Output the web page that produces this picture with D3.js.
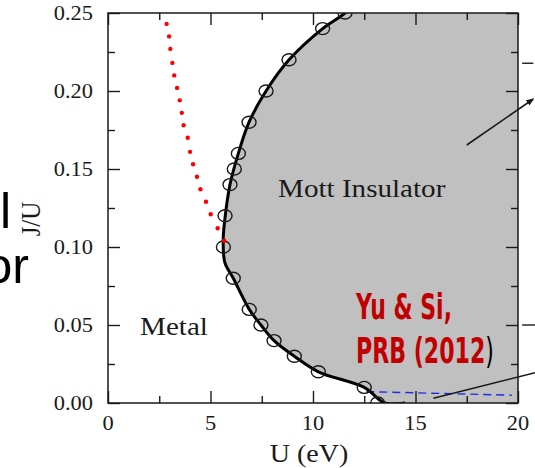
<!DOCTYPE html>
<html>
<head>
    <meta charset="utf-8">
    <title>Mott phase diagram</title>
    <script src="https://cdnjs.cloudflare.com/ajax/libs/d3/7.8.5/d3.min.js"></script>
    <style>
        html, body {
            margin: 0;
            padding: 0;
            background: #ffffff;
        }
        #chart {
            width: 535px;
            height: 468px;
        }
    </style>
</head>
<body>
    <div id="chart"></div>
    <script>
        // axis ticks
        const uTicks = [0, 5, 10, 15, 20];
        const uMinor = [2.5, 7.5, 12.5, 17.5];
        const jTicks = [0, 0.05, 0.10, 0.15, 0.20, 0.25];
        const jMinor = [0.025, 0.075, 0.125, 0.175, 0.225];

        // open circles on the Mott boundary
        const circleU = [11.56, 10.47, 8.83, 7.71, 6.88, 6.36, 6.16, 5.95, 5.71, 5.63, 6.11, 6.89, 7.46, 8.10, 9.09, 10.26, 12.50, 13.15];
        const circleJ = [0.25, 0.24, 0.22, 0.20, 0.18, 0.16, 0.15, 0.14, 0.12, 0.10, 0.08, 0.06, 0.05, 0.04, 0.03, 0.02, 0.01, 0.00];

        // solid boundary line (runs past the frame at both ends)
        const lineU = [12.45, 11.56, 10.47, 8.83, 7.71, 6.88, 6.36, 5.95, 5.72, 5.62, 5.70, 6.11, 6.89, 7.46, 8.10, 9.09, 10.26, 12.50, 13.50, 14.5];
        const lineJ = [0.262, 0.25, 0.24, 0.22, 0.20, 0.18, 0.16, 0.14, 0.12, 0.105, 0.09, 0.08, 0.06, 0.05, 0.04, 0.03, 0.02, 0.01, 0.0, 0.0];

        // red dotted line
        const redU = [2.86, 2.98, 3.04, 3.14, 3.23, 3.37, 3.50, 3.60, 3.69, 3.89, 4.00, 4.15, 4.34, 4.51, 4.78, 5.01, 5.35, 5.67];
        const redJ = [0.243, 0.235, 0.227, 0.218, 0.210, 0.202, 0.194, 0.186, 0.178, 0.170, 0.161, 0.153, 0.145, 0.137, 0.129, 0.121, 0.112, 0.104];

        // blue dashed line
        const blueU = [12.6, 19.7];
        const blueJ = [0.0073, 0.0050];

        // slide annotations (arrows and stray ticks), in data units
        const arrowUp = [[17.5, 0.1654], [20.73, 0.1947]];
        const lineDown = [[15.87, 0.003], [20.83, 0.0194]];
        const strayTicks = [[[20.2, 0.2178], [20.75, 0.2178]], [[20.2, 0.05], [20.83, 0.05]]];

        const W = 535, H = 468;
        const mLeft = 108, mRight = 518, mTop = 13, mBottom = 403;
        const stretch = 1.12;
        const ink = "#1a1a1a";

        const x = d3.scaleLinear().domain([0, 20]).range([mLeft, mRight]);
        const y = d3.scaleLinear().domain([0, 0.25]).range([mBottom, mTop]);

        const svg = d3.select("#chart").append("svg")
            .attr("width", W)
            .attr("height", H);

        svg.append("rect").attr("width", W).attr("height", H).attr("fill", "#fff");

        const defs = svg.append("defs");
        defs.append("clipPath")
            .attr("id", "plot")
            .append("rect")
            .attr("x", mLeft).attr("y", mTop)
            .attr("width", mRight - mLeft).attr("height", mBottom - mTop);

        const boundary = lineU.map((u, i) => [u, lineJ[i]]);
        const line = d3.line()
            .x(d => x(d[0]))
            .y(d => y(d[1]))
            .curve(d3.curveCatmullRom.alpha(0.5));

        const plot = svg.append("g").attr("clip-path", "url(#plot)");

        // insulating region
        plot.append("path")
            .attr("d", line(boundary) + "L" + x(21) + "," + y(0) + "L" + x(21) + "," + y(0.27) + "L" + x(12.45) + "," + y(0.27) + "Z")
            .attr("fill", "#c0c0c0");

        plot.append("path")
            .attr("d", d3.line().x(d => x(d[0])).y(d => y(d[1]))(blueU.map((u, i) => [u, blueJ[i]])))
            .attr("fill", "none")
            .attr("stroke", "#1f2de8")
            .attr("stroke-width", 1.4)
            .attr("stroke-dasharray", "8,5");

        plot.append("path")
            .attr("d", line(boundary))
            .attr("fill", "none")
            .attr("stroke", "#000")
            .attr("stroke-width", 3);

        plot.selectAll("ellipse")
            .data(circleU)
            .enter()
            .append("ellipse")
            .attr("cx", d => x(d))
            .attr("cy", (d, i) => y(circleJ[i]))
            .attr("rx", 7)
            .attr("ry", 6)
            .attr("fill", "none")
            .attr("stroke", ink)
            .attr("stroke-width", 1.4);

        svg.selectAll(".red")
            .data(redU)
            .enter()
            .append("circle")
            .attr("class", "red")
            .attr("cx", d => x(d))
            .attr("cy", (d, i) => y(redJ[i]))
            .attr("r", 2.2)
            .attr("fill", "#ff0000");

        // frame and ticks (all pointing inward)
        function tickAxis(axis, values, size, transform) {
            svg.append("g")
                .attr("transform", transform)
                .call(axis.tickValues(values).tickSize(-size).tickSizeOuter(0).tickFormat(""))
                .call(g => g.select(".domain").remove())
                .call(g => g.selectAll("line").attr("stroke", ink).attr("stroke-width", 1.4));
        }
        tickAxis(d3.axisBottom(x), uTicks, 12, `translate(0,${mBottom})`);
        tickAxis(d3.axisBottom(x), uMinor, 7, `translate(0,${mBottom})`);
        tickAxis(d3.axisTop(x), uTicks, 12, `translate(0,${mTop})`);
        tickAxis(d3.axisTop(x), uMinor, 7, `translate(0,${mTop})`);
        tickAxis(d3.axisLeft(y), jTicks, 12, `translate(${mLeft},0)`);
        tickAxis(d3.axisLeft(y), jMinor, 7, `translate(${mLeft},0)`);
        tickAxis(d3.axisRight(y), jTicks, 12, `translate(${mRight},0)`);
        tickAxis(d3.axisRight(y), jMinor, 7, `translate(${mRight},0)`);

        svg.append("rect")
            .attr("x", mLeft).attr("y", mTop)
            .attr("width", mRight - mLeft).attr("height", mBottom - mTop)
            .attr("fill", "none")
            .attr("stroke", ink)
            .attr("stroke-width", 1.5);

        // slide annotations
        defs.append("marker")
            .attr("id", "head")
            .attr("viewBox", "0 0 10 10")
            .attr("refX", 8).attr("refY", 5)
            .attr("markerWidth", 5).attr("markerHeight", 5)
            .attr("orient", "auto")
            .append("path")
            .attr("d", "M0,1L10,5L0,9Z")
            .attr("fill", ink);

        const seg = d3.line().x(d => x(d[0])).y(d => y(d[1]));
        svg.append("path")
            .attr("d", seg(arrowUp))
            .attr("stroke", ink).attr("stroke-width", 1.6)
            .attr("marker-end", "url(#head)");
        svg.append("path")
            .attr("d", seg(lineDown))
            .attr("stroke", ink).attr("stroke-width", 1.6);
        strayTicks.forEach(t => {
            svg.append("path").attr("d", seg(t)).attr("stroke", ink).attr("stroke-width", 1.4);
        });

        // text
        function serif(txt, px, py, size, anchor) {
            return svg.append("text")
                .attr("transform", `translate(${px},${py}) scale(${stretch},1)`)
                .attr("text-anchor", anchor)
                .style("font-family", "'Liberation Serif', 'DejaVu Serif', serif")
                .style("font-size", size + "px")
                .attr("fill", ink)
                .text(txt);
        }

        uTicks.forEach(u => serif(String(u), x(u), 430, 20, "middle"));
        jTicks.forEach(j => serif(j.toFixed(2), mLeft - 15, y(j) + 6.5, 20, "end"));

        serif("U (eV)", (mLeft + mRight) / 2 - 4, 462, 25, "middle");

        svg.append("text")
            .attr("transform", `translate(40,219) scale(${stretch},1) rotate(-90)`)
            .attr("text-anchor", "middle")
            .style("font-family", "'Liberation Serif', serif")
            .style("font-size", "25px")
            .attr("fill", ink)
            .text("J/U");

        serif("Mott Insulator", 278, 197, 26, "start");
        serif("Metal", 140, 335, 26, "start");

        const cite = svg.append("g")
            .style("font-family", "'Liberation Sans Narrow', 'DejaVu Sans Condensed', Roboto, sans-serif")
            .style("font-weight", "bold")
            .style("font-size", "36px");
        cite.append("text")
            .attr("x", 356).attr("y", 319)
            .attr("textLength", 96).attr("lengthAdjust", "spacingAndGlyphs")
            .attr("fill", "#c00000")
            .text("Yu & Si,");
        const prb = cite.append("text")
            .attr("x", 356).attr("y", 363)
            .attr("textLength", 138).attr("lengthAdjust", "spacingAndGlyphs")
            .attr("fill", "#c00000");
        prb.append("tspan").text("PRB (2012");
        prb.append("tspan").attr("fill", "#000").style("font-weight", "normal").text(")");

        // fragments of the surrounding slide text
        const slide = svg.append("g")
            .style("font-family", "'Liberation Sans', Arial, sans-serif")
            .style("font-size", "50px")
            .attr("fill", "#000")
            .attr("text-anchor", "end");
        slide.append("text").attr("x", 11).attr("y", 228).text("l");
        slide.append("text").attr("x", 29).attr("y", 283).text("or");
    </script>
</body>
</html>
